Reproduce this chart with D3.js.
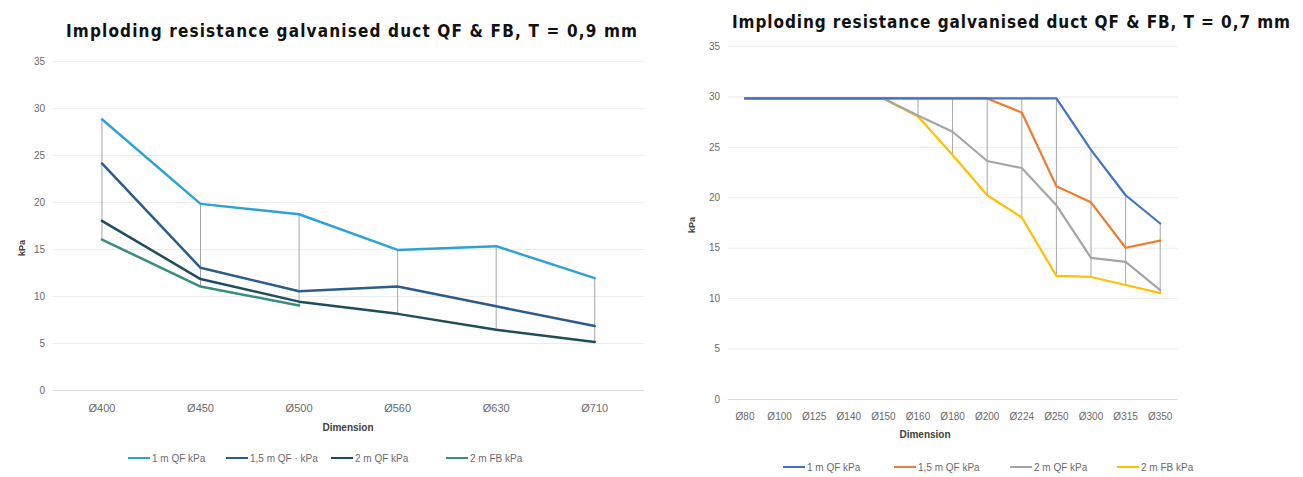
<!DOCTYPE html>
<html><head><meta charset="utf-8">
<script src="https://cdn.jsdelivr.net/npm/d3@7"></script>
<style>
body{margin:0;background:#fff;}
svg{display:block;}
.tick text{font-family:"Liberation Sans",Arial,sans-serif;fill:#6b6b6b;}
</style></head>
<body>
<svg id="chart" width="1303" height="477"></svg>
<script>
// ---- Left chart data (T = 0,9 mm) ----
const leftTitle = "Imploding resistance galvanised duct QF & FB, T = 0,9 mm";
const leftCategories = ["Ø400","Ø450","Ø500","Ø560","Ø630","Ø710"];
const leftSeriesNames = ["1 m QF kPa","1,5 m QF · kPa","2 m QF kPa","2 m FB kPa"];
const left1mQF  = [28.8, 19.8, 18.7, 14.9, 15.3, 11.9];
const left15mQF = [24.1, 13.0, 10.5, 11.0, 8.9, 6.8];
const left2mQF  = [18.0, 11.8, 9.4, 8.1, 6.4, 5.1];
const left2mFB  = [16.0, 11.0, 9.0, null, null, null];
const leftColors = ["#2ea3d3","#2c5d8a","#1e4d5e","#3b8b7e"];

// ---- Right chart data (T = 0,7 mm) ----
const rightTitle = "Imploding resistance galvanised duct QF & FB, T = 0,7 mm";
const rightCategories = ["Ø80","Ø100","Ø125","Ø140","Ø150","Ø160","Ø180","Ø200","Ø224","Ø250","Ø300","Ø315","Ø350"];
const rightSeriesNames = ["1 m QF kPa","1,5 m QF kPa","2 m QF kPa","2 m FB kPa"];
const right1mQF  = [29.8,29.8,29.8,29.8,29.8,29.8,29.8,29.8,29.8,29.8,24.7,20.2,17.4];
const right15mQF = [29.8,29.8,29.8,29.8,29.8,29.8,29.8,29.8,28.4,21.1,19.5,15.0,15.7];
const right2mQF  = [29.8,29.8,29.8,29.8,29.8,28.1,26.5,23.6,22.9,19.2,14.0,13.6,10.8];
const right2mFB  = [29.8,29.8,29.8,29.8,29.8,28.0,24.2,20.2,18.0,12.2,12.1,11.3,10.5];
const rightColors = ["#4472c4","#ed7d31","#a5a5a5","#ffc000"];

const yTicks = [0,5,10,15,20,25,30,35];
const axisTitleX = "Dimension";
const axisTitleY = "kPa";

const svg = d3.select("#chart");

function drawChart(cfg){
  const g = svg.append("g");
  const x = d3.scaleBand().domain(cfg.categories).range([cfg.x0, cfg.x1]).padding(0);
  const y = d3.scaleLinear().domain([0,35]).range([cfg.y0, cfg.y1]);
  const cx = c => x(c) + x.bandwidth()/2;

  // gridlines
  g.append("g").attr("transform",`translate(${cfg.x0},0)`)
    .call(d3.axisLeft(y).tickValues(yTicks).tickSize(-(cfg.x1-cfg.x0)).tickFormat(""))
    .call(a=>a.select(".domain").remove())
    .call(a=>a.selectAll("line").attr("stroke", d=> d===0 ? "#d9d9d9" : "#ececec").attr("stroke-width",1));
  // y tick labels
  g.append("g").attr("transform",`translate(${cfg.yLabelX},0)`)
    .call(d3.axisLeft(y).tickValues(yTicks).tickSize(0).tickPadding(0))
    .call(a=>a.select(".domain").remove())
    .call(a=>a.selectAll("text").style("font-size",cfg.yFont+"px"));
  // x tick labels
  g.append("g").attr("transform",`translate(0,${cfg.xLabelY})`)
    .call(d3.axisBottom(x).tickSize(0).tickPadding(0))
    .call(a=>a.select(".domain").remove())
    .call(a=>a.selectAll("text").attr("dy","0").style("font-size",cfg.xFont+"px"));

  // high-low drop lines
  const series = cfg.series;
  cfg.categories.forEach((c,i)=>{
    const vals = series.map(s=>s[i]).filter(v=>v!=null);
    const hi = d3.max(vals), lo = d3.min(vals);
    if (hi-lo > 0.01) {
      g.append("line").attr("x1",cx(c)).attr("x2",cx(c))
        .attr("y1",y(hi)).attr("y2",y(lo))
        .attr("stroke","#a6a6a6").attr("stroke-width",1);
    }
  });

  // series lines (drawn last to first so first is on top)
  const line = d3.line().defined(d=>d.v!=null).x(d=>cx(d.c)).y(d=>y(d.v));
  for (let k=series.length-1; k>=0; k--) {
    const pts = cfg.categories.map((c,i)=>({c, v:series[k][i]}));
    g.append("path").datum(pts).attr("d",line)
      .attr("fill","none").attr("stroke",cfg.colors[k]).attr("stroke-width",cfg.lw)
      .attr("stroke-linejoin","round").attr("stroke-linecap","round");
  }

  // titles
  g.append("text").attr("x",cfg.titleX).attr("y",cfg.titleY)
    .attr("textLength",cfg.titleLen).attr("lengthAdjust","spacing")
    .style("font-family","'DejaVu Sans Condensed','DejaVu Sans',sans-serif")
    .style("font-stretch","condensed")
    .style("font-weight","bold").style("font-size","17px").attr("fill","#111")
    .text(cfg.title);
  g.append("text").attr("x",cfg.dimX).attr("y",cfg.dimY).attr("text-anchor","middle")
    .style("font-family","'Liberation Sans',Arial,sans-serif").style("font-weight","bold")
    .style("font-size","10px").attr("fill","#404040").text(axisTitleX);
  g.append("text").attr("transform",`translate(${cfg.kpaX},${cfg.kpaY}) rotate(-90)`)
    .attr("text-anchor","middle")
    .style("font-family","'Liberation Sans',Arial,sans-serif").style("font-weight","bold")
    .style("font-size","9px").attr("fill","#404040").text(axisTitleY);

  // legend
  cfg.names.forEach((n,k)=>{
    const lx = cfg.legendX[k];
    g.append("line").attr("x1",lx).attr("x2",lx+22).attr("y1",cfg.legendY).attr("y2",cfg.legendY)
      .attr("stroke",cfg.colors[k]).attr("stroke-width",2);
    g.append("text").attr("x",lx+24).attr("y",cfg.legendY+3.5)
      .style("font-family","'Liberation Sans',Arial,sans-serif").style("font-size","10px")
      .attr("fill","#6b6b6b").text(n);
  });
}

drawChart({
  title:leftTitle, titleX:66, titleY:37, titleLen:571,
  categories:leftCategories, series:[left1mQF,left15mQF,left2mQF,left2mFB],
  names:leftSeriesNames, colors:leftColors, lw:2.5, xFont:11, yFont:10,
  x0:52.7, x1:644, y0:390, y1:61, yLabelX:45, xLabelY:412,
  dimX:348, dimY:431, kpaX:25, kpaY:248,
  legendX:[128,226,331,446], legendY:458
});
drawChart({
  title:rightTitle, titleX:732, titleY:28, titleLen:558,
  categories:rightCategories, series:[right1mQF,right15mQF,right2mQF,right2mFB],
  names:rightSeriesNames, colors:rightColors, lw:2.2, xFont:10, yFont:10,
  x0:727.7, x1:1177.5, y0:399, y1:46, yLabelX:720, xLabelY:420,
  dimX:925, dimY:438, kpaX:695, kpaY:225,
  legendX:[783,894,1010,1117], legendY:467
});
</script>
</body></html>
